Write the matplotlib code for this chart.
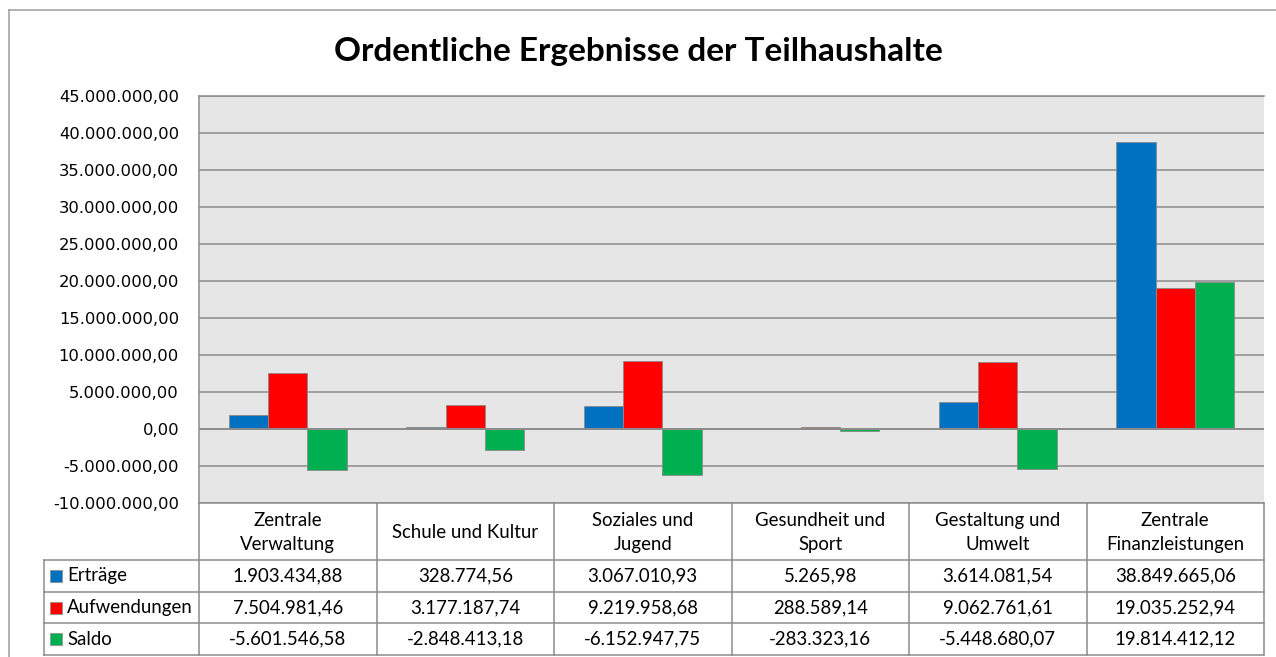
import matplotlib.pyplot as plt
import numpy as np
from matplotlib.lines import Line2D
from matplotlib.patches import Rectangle

title = "Ordentliche Ergebnisse der Teilhaushalte"
categories = ["Zentrale\nVerwaltung", "Schule und Kultur", "Soziales und\nJugend",
              "Gesundheit und\nSport", "Gestaltung und\nUmwelt", "Zentrale\nFinanzleistungen"]
series_names = ["Erträge", "Aufwendungen", "Saldo"]
ertraege = [1903434.88, 328774.56, 3067010.93, 5265.98, 3614081.54, 38849665.06]
aufwendungen = [7504981.46, 3177187.74, 9219958.68, 288589.14, 9062761.61, 19035252.94]
saldo = [-5601546.58, -2848413.18, -6152947.75, -283323.16, -5448680.07, 19814412.12]
series_values = [ertraege, aufwendungen, saldo]
colors = ["#0070C0", "#FF0000", "#00B050"]
ytick_values = [-10e6, -5e6, 0, 5e6, 10e6, 15e6, 20e6, 25e6, 30e6, 35e6, 40e6, 45e6]


def de_fmt(v):
    s = f"{v:,.2f}"
    return s.replace(",", "X").replace(".", ",").replace("X", ".")


W, H = 1276, 657
fig = plt.figure(figsize=(W / 100, H / 100), dpi=100)
fig.patch.set_facecolor("white")

def fx(x):
    return x / W

def fy(y):
    return 1 - y / H

PL, PR, PT, PB = 199, 1264, 96, 503
GRID = "#8C8C8C"
TFONT = ["Lato", "DejaVu Sans"]
TSIZE = 13.4

ax = fig.add_axes([fx(PL), fy(PB), (PR - PL) / W, (PB - PT) / H])
ax.set_facecolor("#E6E6E6")
n = len(categories)
x = np.arange(n) + 0.5
w = 1 / 4.5
for i, (vals, c) in enumerate(zip(series_values, colors)):
    ax.bar(x + (i - 1) * w, vals, w, color=c, edgecolor="#8A8A8A", linewidth=0.6, zorder=2)
ax.set_xlim(0, n)
ax.set_ylim(ytick_values[0], ytick_values[-1])
ax.set_yticks(ytick_values)
ax.set_yticklabels([de_fmt(v) for v in ytick_values], fontfamily="DejaVu Sans")
ax.tick_params(axis="y", length=0, pad=14.4, labelsize=11.8, labelcolor="black")
ax.set_xticks([])
ax.set_axisbelow(True)
ax.grid(axis="y", color=GRID, linewidth=1.1)
ax.axhline(0, color=GRID, linewidth=1.4, zorder=3)
ax.spines["right"].set_visible(False)
for s in ["left", "top", "bottom"]:
    ax.spines[s].set_color(GRID)
    ax.spines[s].set_linewidth(1.1)

# overlay for table and frame
tax = fig.add_axes([0, 0, 1, 1])
tax.set_xlim(0, W)
tax.set_ylim(H, 0)
tax.axis("off")
tax.patch.set_alpha(0)

def line(x0, y0, x1, y1, color="#8C8C8C", lw=1.1):
    tax.add_line(Line2D([x0, x1], [y0, y1], color=color, linewidth=lw))

# outer frame
line(9, 10, 9, H, color="#A6A6A6", lw=1.2)
line(9, 10, W, 10, color="#A6A6A6", lw=1.2)

# table
col_w = (PR - PL) / n
hdr_bot = 560
row_h = (655 - hdr_bot) / 3
lab_left = 44
for k in range(n + 1):
    xx = PL + k * col_w
    line(xx, PB, xx, 655)
line(lab_left, hdr_bot, lab_left, 655)
for r in range(4):
    yy = hdr_bot + r * row_h
    line(lab_left, yy, PR, yy)

for k, cat in enumerate(categories):
    tax.text(PL + (k + 0.5) * col_w, (PB + hdr_bot) / 2 + 1, cat, ha="center", va="center",
             fontsize=TSIZE, family=TFONT, linespacing=1.45)

for r, (name, vals, c) in enumerate(zip(series_names, series_values, colors)):
    yc = hdr_bot + (r + 0.5) * row_h
    tax.add_patch(Rectangle((50, yc - 6), 12, 12, facecolor=c, edgecolor="#8A8A8A", linewidth=0.5))
    tax.text(67, yc, name, ha="left", va="center", fontsize=TSIZE, family=TFONT)
    for k, v in enumerate(vals):
        tax.text(PL + (k + 0.5) * col_w, yc, de_fmt(v), ha="center", va="center",
                 fontsize=TSIZE, family=TFONT)

fig.text(fx(638), fy(52), title, ha="center", va="center", fontsize=24,
         fontweight="bold", family=TFONT)

fig.savefig("out.png", dpi=100)
